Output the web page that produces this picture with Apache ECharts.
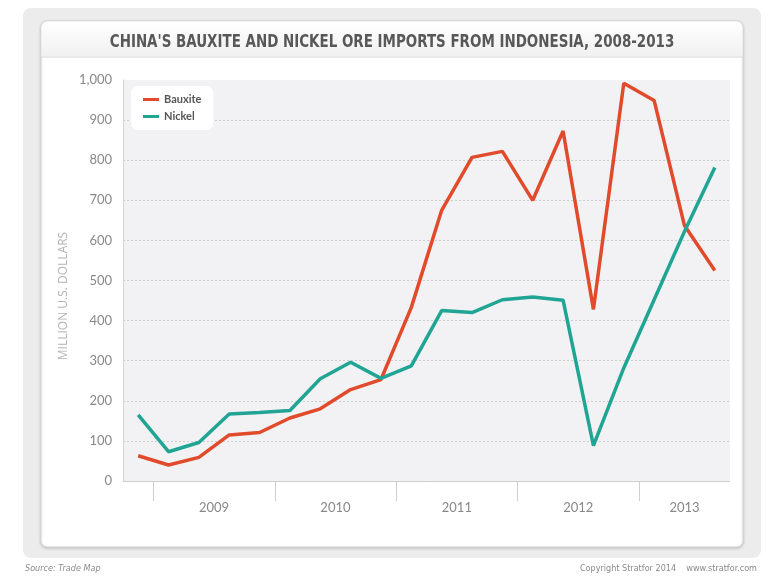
<!DOCTYPE html>
<html>
<head>
<meta charset="utf-8">
<script src="https://cdn.jsdelivr.net/npm/echarts@6/dist/echarts.min.js"></script>
<style>
  html, body { margin: 0; padding: 0; background: #fff; }
  #main { width: 784px; height: 577px; }
</style>
</head>
<body>
<div id="main"></div>
<script>
  // quarters, Q4 2008 .. Q3 2013
  var quarters = ['Q4 2008',
    'Q1 2009', 'Q2 2009', 'Q3 2009', 'Q4 2009',
    'Q1 2010', 'Q2 2010', 'Q3 2010', 'Q4 2010',
    'Q1 2011', 'Q2 2011', 'Q3 2011', 'Q4 2011',
    'Q1 2012', 'Q2 2012', 'Q3 2012', 'Q4 2012',
    'Q1 2013', 'Q2 2013', 'Q3 2013']
  var bauxite = [63, 40, 59, 115, 121, 157, 180, 228, 253, 433, 675, 807, 822, 700, 873, 428, 992, 949, 637, 525]
  var nickel = [165, 73, 96, 167, 171, 176, 255, 296, 256, 287, 425, 420, 452, 459, 451, 88, 282, 452, 622, 782]
  var years = ['2009', '2010', '2011', '2012', '2013']

  // half-quarter positions for year ticks / labels (41 points across 20 quarters)
  var halfSteps = []
  for (var i = 0; i <= quarters.length * 2; i++) halfSteps.push(i)
  // label sits in the middle of each year's quarters
  var yearLabelAt = {}
  years.forEach(function (y) {
    var first = -1, last = -1
    quarters.forEach(function (q, k) {
      if (q.slice(-4) === y) { if (first < 0) first = k; last = k }
    })
    yearLabelAt[first + last + 1] = y   // (first + (last+1)) / 2 quarters -> *2 half-steps
  })

  var red = '#e14b2b'
  var teal = '#20a595'
  var narrow = '"DejaVu Sans Condensed", "DejaVu Sans", sans-serif'

  var myChart = echarts.init(document.getElementById('main'))
  var option = {
    animation: false,
    graphic: [
      { type: 'rect', z: -20, shape: { x: 23, y: 8, width: 738, height: 550, r: 8 }, style: { fill: '#ececec' } },
      { type: 'rect', z: -19, shape: { x: 41, y: 21, width: 702, height: 526, r: 6 },
        style: { fill: '#fff', stroke: '#d6d6d6', lineWidth: 1, shadowBlur: 3, shadowOffsetY: 1, shadowColor: 'rgba(0,0,0,0.18)' } },
      { type: 'rect', z: -18, shape: { x: 41.5, y: 21.5, width: 701, height: 35, r: [6, 6, 0, 0] },
        style: { fill: new echarts.graphic.LinearGradient(0, 0, 0, 1, [
          { offset: 0, color: '#ffffff' }, { offset: 1, color: '#f0f0f0' }]) } },
      { type: 'line', z: -17, shape: { x1: 41.5, y1: 57, x2: 742.5, y2: 57 }, style: { stroke: '#d9d9d9', lineWidth: 1 } },
      // title: condensed look by squeezing a bold face horizontally
      { type: 'text', x: 392, y: 42, scaleX: 0.83,
        style: { text: "CHINA'S BAUXITE AND NICKEL ORE IMPORTS FROM INDONESIA, 2008-2013",
          fill: '#585858', font: 'bold 18px ' + narrow, align: 'center', verticalAlign: 'middle' } },
      { type: 'text', x: 64, y: 296, rotation: Math.PI / 2,
        style: { text: 'MILLION U.S. DOLLARS', fill: '#b3b3b3', font: '12px "Open Sans"',
          align: 'center', verticalAlign: 'middle' } },
      { type: 'text', left: 25, top: 564,
        style: { text: 'Source: Trade Map', fill: '#8a8a8a', font: 'italic 9px ' + narrow } },
      { type: 'text', right: 27, top: 564,
        style: { text: 'Copyright Stratfor 2014    www.stratfor.com', fill: '#8a8a8a', font: '9px ' + narrow } }
    ],
    legend: {
      orient: 'vertical',
      left: 131,
      top: 86,
      padding: [8, 12, 8, 12],
      itemGap: 6,
      itemWidth: 16,
      itemHeight: 3,
      icon: 'rect',
      backgroundColor: '#fff',
      borderRadius: 7,
      textStyle: { fontFamily: 'Lato', fontSize: 11, fontWeight: 'bold', color: '#555' },
      data: ['Bauxite', 'Nickel']
    },
    grid: {
      left: 123, right: 54, top: 80, bottom: 96,
      show: true, backgroundColor: '#f2f2f4', borderWidth: 0
    },
    xAxis: [
      {
        type: 'category',
        data: quarters,
        boundaryGap: true,
        axisLine: { lineStyle: { color: '#cfcfcf', width: 1 } },
        axisTick: { length: 9, lineStyle: { color: '#cfcfcf' } },
        axisLabel: { show: false }
      },
      {
        type: 'category',
        data: halfSteps,
        boundaryGap: false,
        position: 'bottom',
        axisLine: { show: false },
        axisTick: {
          length: 20,
          lineStyle: { color: '#cfcfcf' },
          interval: function (idx) { return idx % 8 === 2 }
        },
        axisLabel: {
          interval: function (idx) { return yearLabelAt[idx] !== undefined },
          formatter: function (v, idx) { return yearLabelAt[idx] || '' },
          margin: 20,
          fontFamily: 'Lato',
          fontSize: 13,
          color: '#888'
        }
      }
    ],
    yAxis: {
      type: 'value',
      min: 0,
      max: 1000,
      interval: 100,
      axisLine: { show: true, lineStyle: { color: '#d4d4d4' } },
      axisTick: { show: false },
      axisLabel: {
        margin: 11,
        fontFamily: 'Lato',
        fontSize: 13,
        color: '#888',
        formatter: function (v) { return v >= 1000 ? '1,000' : String(v) }
      },
      splitLine: { showMaxLine: false, showMinLine: false, lineStyle: { color: '#cdcdcd', type: [2, 2] } }
    },
    series: [
      {
        name: 'Bauxite', type: 'line', data: bauxite, symbol: 'none',
        lineStyle: { color: red, width: 3.5 }, itemStyle: { color: red }
      },
      {
        name: 'Nickel', type: 'line', data: nickel, symbol: 'none',
        lineStyle: { color: teal, width: 3.5 }, itemStyle: { color: teal }
      }
    ]
  }
  myChart.setOption(option)
</script>
</body>
</html>
